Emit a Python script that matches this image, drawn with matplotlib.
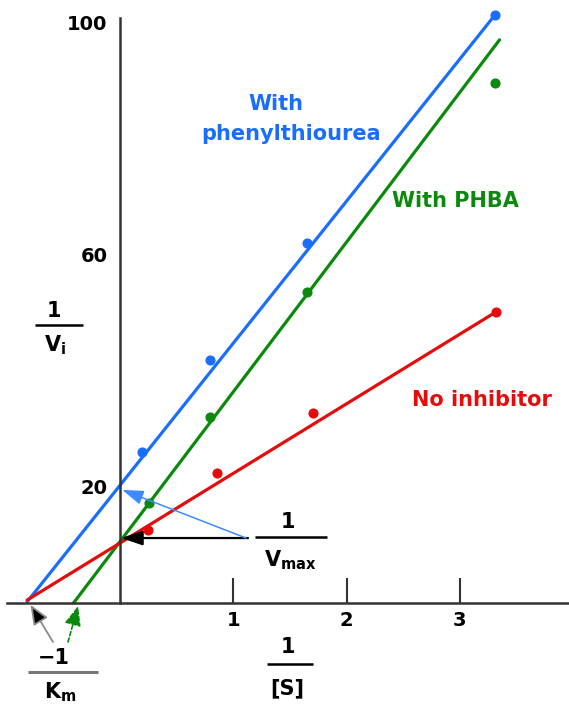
import matplotlib
matplotlib.use("Agg")
import matplotlib.pyplot as plt
import numpy as np

# ---------------- data ----------------
inv_s_ticks = [1, 2, 3]
inv_s_tick_labels = ["1", "2", "3"]
inv_v_ticks = [20, 60, 100]
inv_v_tick_labels = ["20", "60", "100"]

# fitted lines (endpoints)
blue_line_x = [-0.82, 3.31]
blue_line_y = [0.2, 101.4]
green_line_x = [-0.41, 3.35]
green_line_y = [0.0, 97.1]
red_line_x = [-0.82, 3.32]
red_line_y = [0.5, 50.2]

# measured points
blue_pts_x = [0.19, 0.79, 1.65, 3.31]
blue_pts_y = [26.0, 41.9, 62.1, 101.4]
green_pts_x = [0.26, 0.79, 1.65, 3.31]
green_pts_y = [17.2, 32.1, 53.6, 89.7]
red_pts_x = [0.25, 0.86, 1.70, 3.32]
red_pts_y = [12.6, 22.4, 32.8, 50.2]

# key values
inv_vmax = 11.2        # common y-intercept (no inhibitor / PHBA)
inv_vmax_pt = 19.5     # y-intercept with phenylthiourea
neg_inv_km = -0.82     # common x-intercept (no inhibitor / phenylthiourea)
neg_inv_km_phba = -0.37

BLUE = "#1a6eff"
GREEN = "#0a8a0a"
RED = "#e50c0c"
AXC = "#333333"

plt.rcParams["mathtext.fontset"] = "dejavusans"

# ---------------- figure ----------------
W, H = 569, 705
fig = plt.figure(figsize=(W / 100, H / 100), dpi=100)
ax = fig.add_axes([0, 0, 1, 1])

PX_X0, PX_PER_X = 120.0, 113.3
PX_Y0, PX_PER_Y = 603.0, 5.8


def dx(px):
    return (px - PX_X0) / PX_PER_X


def dy(py):
    return (PX_Y0 - py) / PX_PER_Y


ax.set_xlim(dx(0), dx(W))
ax.set_ylim(dy(H), dy(0))

# axes
for s in ["top", "right"]:
    ax.spines[s].set_visible(False)
ax.spines["left"].set_position(("data", 0))
ax.spines["bottom"].set_position(("data", 0))
ax.spines["left"].set_bounds(0, dy(18))
ax.spines["bottom"].set_bounds(dx(7), dx(W))
for s in ["left", "bottom"]:
    ax.spines[s].set_color(AXC)
    ax.spines[s].set_linewidth(1.8)
ax.patch.set_visible(False)

ax.set_xticks(inv_s_ticks)
ax.set_xticklabels(inv_s_tick_labels, fontsize=14, fontweight="bold")
ax.tick_params(axis="x", direction="in", length=18, width=1.5, color=AXC, pad=6)
ax.set_yticks(inv_v_ticks)
ax.set_yticklabels(inv_v_tick_labels, fontsize=14, fontweight="bold")
ax.tick_params(axis="y", length=0, pad=9)

# lines and points
lw = 2.3
ax.plot(blue_line_x, blue_line_y, color=BLUE, lw=lw, solid_capstyle="round")
ax.plot(green_line_x, green_line_y, color=GREEN, lw=lw, solid_capstyle="round")
ax.plot(red_line_x, red_line_y, color=RED, lw=lw, solid_capstyle="round")
ms = 6.3
ax.plot(blue_pts_x, blue_pts_y, "o", color=BLUE, ms=ms)
ax.plot(green_pts_x, green_pts_y, "o", color=GREEN, ms=ms)
ax.plot(red_pts_x, red_pts_y, "o", color=RED, ms=ms)

# series labels
fs = 15
ax.text(dx(276), dy(110), "With", color=BLUE, fontsize=fs, fontweight="bold",
        ha="center", va="baseline")
ax.text(dx(291), dy(140), "phenylthiourea", color=BLUE, fontsize=fs,
        fontweight="bold", ha="center", va="baseline")
ax.text(dx(455), dy(207), "With PHBA", color=GREEN, fontsize=fs,
        fontweight="bold", ha="center", va="baseline")
ax.text(dx(482), dy(406), "No inhibitor", color=RED, fontsize=fs,
        fontweight="bold", ha="center", va="baseline")

# arrows
head = "-|>,head_length=0.65,head_width=0.22"
ax.annotate("", xy=(0.01, inv_vmax), xytext=(dx(248), inv_vmax),
            arrowprops=dict(arrowstyle=head, color="black", lw=1.6,
                            mutation_scale=20, shrinkA=0, shrinkB=0))
ax.annotate("", xy=(0.02, inv_vmax_pt), xytext=(dx(246), inv_vmax),
            arrowprops=dict(arrowstyle=head, color="#3d8bff", lw=1.1,
                            mutation_scale=20, shrinkA=0, shrinkB=0))
ax.annotate("", xy=(neg_inv_km + 0.03, -0.3), xytext=(dx(53), dy(642)),
            arrowprops=dict(arrowstyle="-|>,head_length=0.6,head_width=0.25",
                            ec="#8a8a8a", fc="black", lw=1.3, mutation_scale=20,
                            shrinkA=0, shrinkB=0))
ax.annotate("", xy=(neg_inv_km_phba, -0.5), xytext=(dx(68), dy(642)),
            arrowprops=dict(arrowstyle="-|>,head_length=0.6,head_width=0.25",
                            color=GREEN, lw=1.2, ls=(0, (2.5, 1.5)),
                            mutation_scale=20, shrinkA=0, shrinkB=0))


def frac(cx_num, base_num, x0, x1, ybar, den, cx_den, base_den, barlw=1.8,
         barcolor="black", fsz=15):
    ax.text(dx(cx_num), dy(base_num), "1", fontsize=fsz, fontweight="bold",
            ha="center", va="baseline")
    ax.plot([dx(x0), dx(x1)], [dy(ybar), dy(ybar)], color=barcolor,
            lw=barlw, solid_capstyle="butt", clip_on=False)
    ax.text(dx(cx_den), dy(base_den), den, fontsize=fsz, fontweight="bold",
            ha="center", va="baseline")


# 1 / V_i
frac(54, 317, 35, 83, 325, r"$\mathbf{V_i}$", 55, 351)
# 1 / V_max
frac(288, 528, 255, 327, 537, r"$\mathbf{V_{max}}$", 290, 566)
# 1 / [S]
frac(288, 653, 267, 313, 664, "[S]", 287, 694)
# -1 / K_m
ax.text(dx(54), dy(664), "\u22121", fontsize=15, fontweight="bold",
        ha="center", va="baseline")
ax.plot([dx(28), dx(98)], [dy(672), dy(672)], color="#777777", lw=2.2,
        solid_capstyle="butt", clip_on=False)
ax.text(dx(60), dy(698), r"$\mathbf{K_m}$", fontsize=15, ha="center",
        va="baseline")

fig.savefig("out.png", dpi=100)
